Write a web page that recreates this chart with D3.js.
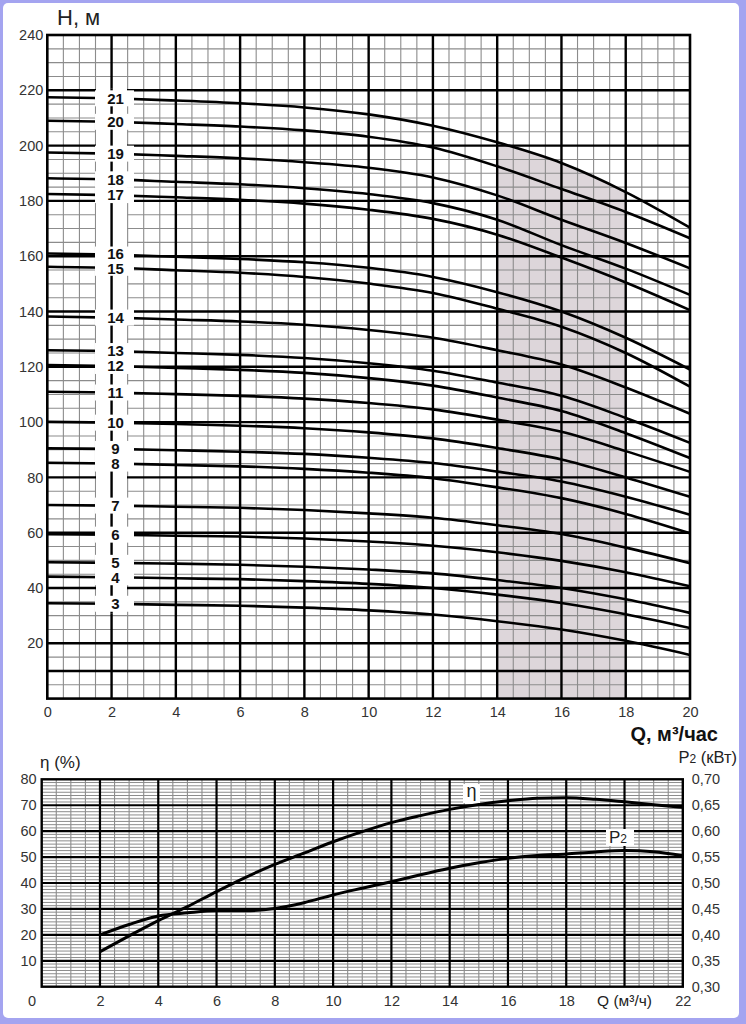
<!DOCTYPE html>
<html>
<head>
<meta charset="utf-8">
<script src="https://cdnjs.cloudflare.com/ajax/libs/d3/7.8.5/d3.min.js"></script>
<style>
  body { margin: 0; background: #fff; }
  svg { display: block; }
  text { font-family: "Liberation Sans", Arial, sans-serif; }
</style>
</head>
<body>
<svg id="chart" width="746" height="1024"></svg>
<script>
// ---- data: head curves H(Q) per number of stages ----
const flowQ = [0, 2, 4, 6, 8, 10, 12, 14, 16, 18, 20];
const h21 = [217.5, 217.1, 216.3, 215.3, 213.8, 211.3, 207.2, 201.2, 193.7, 183.2, 170.3];
const h20 = [209, 208.6, 207.8, 206.9, 205.5, 203.2, 199.3, 192.5, 184.3, 176, 166.5];
const h19 = [197.5, 197.1, 196.3, 195.4, 194, 192, 188.5, 182, 173.2, 164.8, 155.6];
const h18 = [188.2, 187.8, 186.9, 186, 184.6, 182.5, 179.2, 173.2, 164, 155.5, 146];
const h17 = [182.5, 182.1, 181.3, 180.4, 179, 176.8, 173.5, 167.8, 159.5, 150.5, 140.5];
const h16 = [161, 160.6, 159.8, 159, 157.8, 155.8, 152.5, 147, 140, 130.5, 119];
const h15 = [156.2, 155.8, 154.9, 154, 152.5, 150.1, 146.7, 141, 134.5, 125, 112.8];
const h14 = [138.2, 137.8, 137.1, 136.4, 135.2, 133.3, 130.5, 126, 120.8, 112.5, 103];
const h13 = [126, 125.7, 125, 124.3, 123.2, 121.3, 118.6, 114.3, 109.5, 101.5, 92.5];
const h12 = [120.6, 120.3, 119.6, 118.9, 117.8, 115.9, 113.2, 108.9, 104, 96, 87];
const h11 = [111, 110.7, 110.1, 109.5, 108.5, 106.9, 104.6, 100.9, 96.5, 89.5, 82];
const h10 = [100.1, 99.8, 99.3, 98.7, 97.8, 96.3, 94.1, 90.6, 86.5, 80, 73];
const h9 = [90.5, 90.3, 89.8, 89.3, 88.5, 87.1, 85.2, 82.1, 78.5, 73, 66.5];
const h8 = [85.3, 85, 84.5, 84, 83.1, 81.7, 79.7, 76.4, 72.5, 66.8, 59.8];
const h7 = [70, 69.8, 69.4, 69, 68.2, 67, 65.4, 62.7, 59.5, 54.6, 49];
const h6 = [59.5, 59.3, 58.9, 58.6, 57.9, 56.8, 55.3, 52.9, 49.8, 45.7, 40.6];
const h5 = [49.3, 49.1, 48.8, 48.4, 47.7, 46.7, 45.3, 42.9, 40, 35.9, 31];
const h4 = [44.1, 43.9, 43.5, 43.2, 42.5, 41.5, 40, 37.6, 34.6, 30.5, 25.5];
const h3 = [34.5, 34.3, 33.9, 33.6, 32.9, 31.9, 30.4, 28, 25, 20.9, 15.8];

const stageLabels = ["21", "20", "19", "18", "17", "16", "15", "14", "13", "12", "11", "10", "9", "8", "7", "6", "5", "4", "3"];
const stageHeads = [h21, h20, h19, h18, h17, h16, h15, h14, h13, h12, h11, h10, h9, h8, h7, h6, h5, h4, h3];

// recommended working range (shaded)
const workRange = [14, 18];

const headTicks = [20, 40, 60, 80, 100, 120, 140, 160, 180, 200, 220, 240];
const flowTicks = [0, 2, 4, 6, 8, 10, 12, 14, 16, 18, 20];

// ---- data: efficiency and power ----
const perfQ = [2, 3, 4, 5, 6, 7, 8, 9, 10, 11, 12, 13, 14, 15, 16, 17, 18, 19, 20, 21, 22];
const etaPct = [13.5, 19.6, 25.5, 30.9, 36.7, 42.2, 47.2, 51.5, 55.9, 59.8, 63.3, 66, 68.4, 70.3, 71.7, 72.7, 72.9, 72.3, 71.3, 70.2, 69.2];
const p2Kw = [0.40, 0.42, 0.4365, 0.4425, 0.4465, 0.4465, 0.451, 0.462, 0.477, 0.49, 0.5025, 0.516, 0.5285, 0.539, 0.5475, 0.553, 0.556, 0.56, 0.5625, 0.5605, 0.5525];

const etaTicks = [10, 20, 30, 40, 50, 60, 70, 80];
const p2Ticks = ["0,30", "0,35", "0,40", "0,45", "0,50", "0,55", "0,60", "0,65", "0,70"];
const perfFlowTicks = [2, 4, 6, 8, 10, 12, 14, 16, 18, 22];

const svg = d3.select("#chart");
const font = '"Liberation Sans", Arial, sans-serif';

// frame
svg.append("rect").attr("width", 746).attr("height", 1024).attr("fill", "#a4a4f0");
svg.append("rect").attr("x", 3).attr("y", 3).attr("width", 736).attr("height", 1015)
    .attr("rx", 5).attr("fill", "#fff");

// ================= TOP CHART =================
const x = d3.scaleLinear().domain([0, 20]).range([47.3, 690]);
const y = d3.scaleLinear().domain([0, 240]).range([698.6, 35]);

const topG = svg.append("g");

// shaded working range under the top curve
const shadePts = flowQ.map((q, i) => ({ q, h: h21[i] }))
    .filter(d => d.q >= workRange[0] && d.q <= workRange[1]);
topG.append("path")
    .datum(shadePts)
    .attr("fill", "#ddd6da")
    .attr("d", d3.area().x(d => x(d.q)).y0(y(0)).y1(d => y(d.h)).curve(d3.curveMonotoneX));

// thin grid
const thinCol = "#8c8c8c";
d3.range(0, 20.01, 0.5).filter(v => v % 2 !== 0).forEach(v => {
    topG.append("line").attr("x1", x(v)).attr("x2", x(v)).attr("y1", y(0)).attr("y2", y(240))
        .attr("stroke", thinCol).attr("stroke-width", 1.1);
});
d3.range(5, 240, 5).filter(v => !(v % 20 === 0 || v === 10)).forEach(v => {
    topG.append("line").attr("x1", x(0)).attr("x2", x(20)).attr("y1", y(v)).attr("y2", y(v))
        .attr("stroke", thinCol).attr("stroke-width", 1.1);
});
// thick grid
d3.range(2, 20, 2).forEach(v => {
    topG.append("line").attr("x1", x(v)).attr("x2", x(v)).attr("y1", y(0)).attr("y2", y(240))
        .attr("stroke", "#000").attr("stroke-width", 2.4);
});
[10].concat(d3.range(20, 240, 20)).forEach(v => {
    topG.append("line").attr("x1", x(0)).attr("x2", x(20)).attr("y1", y(v)).attr("y2", y(v))
        .attr("stroke", "#000").attr("stroke-width", 2.4);
});

// head curves
const headLine = d3.line().x((d, i) => x(flowQ[i])).y(d => y(d)).curve(d3.curveMonotoneX);
stageHeads.forEach(h => {
    topG.append("path").datum(h)
        .attr("fill", "none").attr("stroke", "#000").attr("stroke-width", 2.6)
        .attr("d", headLine);
});

// label positions: on the curve at Q=2, pushed apart a little where they crowd
const labelY = stageHeads.map(h => y(h[1]));
for (let i = 1; i < labelY.length; i++) {
    const gap = labelY[i] - labelY[i - 1];
    if (gap < 15) {
        const push = (15 - gap) / 2;
        labelY[i - 1] -= push;
        labelY[i] += push;
    }
}

// label column
const colTop = labelY[0] - 10, colBot = labelY[labelY.length - 1] + 10;
topG.append("rect").attr("x", 96).attr("y", colTop).attr("width", 31).attr("height", colBot - colTop)
    .attr("fill", "#fff");
topG.append("line").attr("x1", x(2)).attr("x2", x(2)).attr("y1", colTop).attr("y2", colBot)
    .attr("stroke", "#000").attr("stroke-width", 2.4);

stageHeads.forEach((h, i) => {
    topG.append("rect").attr("x", 95).attr("y", y(h[1]) - 8).attr("width", 39).attr("height", 16)
        .attr("fill", "#fff");
});
stageLabels.forEach((lab, i) => {
    topG.append("text").attr("x", 115.5).attr("y", labelY[i] + 5.3)
        .attr("text-anchor", "middle").attr("font-size", 15).attr("font-weight", "bold")
        .attr("fill", "#111").text(lab);
});

// border
topG.append("rect").attr("x", x(0)).attr("y", y(240)).attr("width", x(20) - x(0)).attr("height", y(0) - y(240))
    .attr("fill", "none").attr("stroke", "#000").attr("stroke-width", 2.6);

// axes labels
const yAx = topG.append("g").attr("transform", `translate(${x(0)},0)`)
    .call(d3.axisLeft(y).tickValues(headTicks).tickSize(0).tickPadding(4));
yAx.select(".domain").remove();
yAx.selectAll("text").attr("font-family", font).attr("font-size", 14.5).attr("fill", "#333");

const xAx = topG.append("g").attr("transform", `translate(0,${y(0)})`)
    .call(d3.axisBottom(x).tickValues(flowTicks).tickSize(0).tickPadding(8));
xAx.select(".domain").remove();
xAx.selectAll("text").attr("font-family", font).attr("font-size", 14.5).attr("fill", "#333");

topG.append("text").attr("x", 57).attr("y", 25).attr("font-size", 22).attr("fill", "#222").text("H, м");
topG.append("text").attr("x", 718).attr("y", 741).attr("text-anchor", "end")
    .attr("font-size", 20).attr("font-weight", "bold").attr("fill", "#111").text("Q, м³/час");

// ================= BOTTOM CHART =================
const xb = d3.scaleLinear().domain([0, 22]).range([41.7, 682.8]);
const yb = d3.scaleLinear().domain([0, 80]).range([986.7, 779.3]);
const yp = d3.scaleLinear().domain([0.30, 0.70]).range([986.7, 779.3]);

const botG = svg.append("g");

d3.range(0, 22.01, 0.5).filter(v => v % 2 !== 0).forEach(v => {
    botG.append("line").attr("x1", xb(v)).attr("x2", xb(v)).attr("y1", yb(0)).attr("y2", yb(80))
        .attr("stroke", thinCol).attr("stroke-width", 1.1);
});
d3.range(1.25, 80, 1.25).filter(v => v % 10 !== 0).forEach(v => {
    botG.append("line").attr("x1", xb(0)).attr("x2", xb(22)).attr("y1", yb(v)).attr("y2", yb(v))
        .attr("stroke", thinCol).attr("stroke-width", 1);
});
d3.range(2, 22, 2).forEach(v => {
    botG.append("line").attr("x1", xb(v)).attr("x2", xb(v)).attr("y1", yb(0)).attr("y2", yb(80))
        .attr("stroke", "#000").attr("stroke-width", 2.2);
});
d3.range(10, 80, 10).forEach(v => {
    botG.append("line").attr("x1", xb(0)).attr("x2", xb(22)).attr("y1", yb(v)).attr("y2", yb(v))
        .attr("stroke", "#000").attr("stroke-width", 2.2);
});

botG.append("path").datum(etaPct)
    .attr("fill", "none").attr("stroke", "#000").attr("stroke-width", 3)
    .attr("d", d3.line().x((d, i) => xb(perfQ[i])).y(d => yb(d)).curve(d3.curveMonotoneX));
botG.append("path").datum(p2Kw)
    .attr("fill", "none").attr("stroke", "#000").attr("stroke-width", 3)
    .attr("d", d3.line().x((d, i) => xb(perfQ[i])).y(d => yp(d)).curve(d3.curveMonotoneX));

botG.append("rect").attr("x", xb(0)).attr("y", yb(80)).attr("width", xb(22) - xb(0)).attr("height", yb(0) - yb(80))
    .attr("fill", "none").attr("stroke", "#000").attr("stroke-width", 2.4);

// curve labels
botG.append("rect").attr("x", 463).attr("y", 784).attr("width", 17).attr("height", 19).attr("fill", "#fff");
botG.append("text").attr("x", 471.5).attr("y", 797).attr("text-anchor", "middle")
    .attr("font-size", 18).attr("fill", "#222").text("η");
botG.append("rect").attr("x", 606).attr("y", 829).attr("width", 28).attr("height", 17).attr("fill", "#fff");
const p2Lab = botG.append("text").attr("x", 609).attr("y", 843).attr("font-size", 17).attr("fill", "#222");
p2Lab.append("tspan").text("P");
p2Lab.append("tspan").attr("font-size", 12).text("2");

// axes
const ybAx = botG.append("g").attr("transform", `translate(${xb(0)},0)`)
    .call(d3.axisLeft(yb).tickValues(etaTicks).tickSize(0).tickPadding(5));
ybAx.select(".domain").remove();
ybAx.selectAll("text").attr("font-family", font).attr("font-size", 14.5).attr("fill", "#333");

const ypAx = botG.append("g").attr("transform", `translate(${xb(22)},0)`)
    .call(d3.axisRight(yp).tickValues(d3.range(0.30, 0.701, 0.05)).tickSize(0).tickPadding(9)
        .tickFormat((d, i) => p2Ticks[i]));
ypAx.select(".domain").remove();
ypAx.selectAll("text").attr("font-family", font).attr("font-size", 14.5).attr("fill", "#333");

const xbAx = botG.append("g").attr("transform", `translate(0,${yb(0)})`)
    .call(d3.axisBottom(xb).tickValues(perfFlowTicks).tickSize(0).tickPadding(9));
xbAx.select(".domain").remove();
xbAx.selectAll("text").attr("font-family", font).attr("font-size", 14.5).attr("fill", "#333");

botG.append("text").attr("x", 32).attr("y", 1006).attr("text-anchor", "middle")
    .attr("font-size", 14.5).attr("fill", "#333").text("0");
botG.append("text").attr("x", xb(20)).attr("y", 1006).attr("text-anchor", "middle")
    .attr("font-size", 15.5).attr("fill", "#222").text("Q (м³/ч)");

botG.append("text").attr("x", 40).attr("y", 768).attr("font-size", 17).attr("fill", "#222").text("η (%)");
const p2Title = botG.append("text").attr("x", 737).attr("y", 763).attr("text-anchor", "end")
    .attr("font-size", 16.5).attr("fill", "#222");
p2Title.append("tspan").text("P");
p2Title.append("tspan").attr("font-size", 12).text("2");
p2Title.append("tspan").text(" (кВт)");
</script>
</body>
</html>
